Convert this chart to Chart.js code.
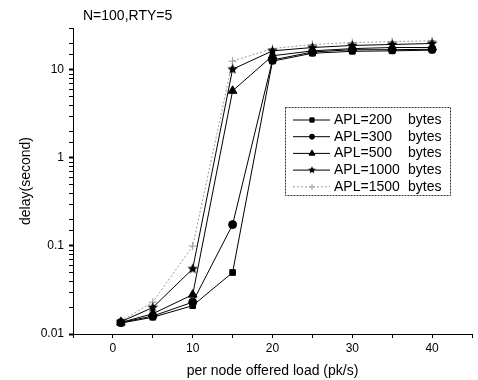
<!DOCTYPE html>
<html>
<head>
<meta charset="UTF-8">
<title>delay vs offered load</title>
<script src="https://cdn.jsdelivr.net/npm/chart.js"></script>
<style>
  html, body { margin: 0; padding: 0; background: #fff; }
  #wrap { width: 478px; height: 380px; }
</style>
</head>
<body>
<div id="wrap"><canvas id="c"></canvas></div>
<script>
  // offered load (pk/s) and delay (s) per application payload length
  const loads = [1, 5, 10, 15, 20, 25, 30, 35, 40];
  const aplNames = ['APL=200', 'APL=300', 'APL=500', 'APL=1000', 'APL=1500'];
  const apl200 = [0.0133, 0.0155, 0.021, 0.050, 12.6, 15.5, 16.3, 16.5, 16.8];
  const apl300 = [0.0135, 0.016, 0.023, 0.175, 13.0, 16.0, 17.0, 17.0, 17.2];
  const apl500 = [0.0135, 0.017, 0.028, 5.8, 14.5, 16.5, 17.5, 18.0, 18.0];
  const apl1000 = [0.0138, 0.020, 0.055, 10.2, 16.5, 18.0, 19.0, 19.5, 20.0];
  const apl1500 = [0.014, 0.023, 0.10, 12.6, 17.5, 19.5, 20.5, 21.0, 21.5];
  const xTickLabels = [0, 10, 20, 30, 40];
  const yTickLabels = [0.01, 0.1, 1, 10];

  const FONT = "'Liberation Sans', Arial, sans-serif";

  // filled five-point star for the APL=1000 markers
  function starImage(r) {
    const s = Math.ceil(r * 2 + 2);
    const cv = document.createElement('canvas');
    cv.width = s; cv.height = s;
    const g = cv.getContext('2d');
    g.fillStyle = '#000';
    g.beginPath();
    for (let i = 0; i < 10; i++) {
      const rr = i % 2 === 0 ? r : r * 0.45;
      const a = -Math.PI / 2 + i * Math.PI / 5;
      const px = s / 2 + rr * Math.cos(a), py = s / 2 + rr * Math.sin(a);
      if (i === 0) g.moveTo(px, py); else g.lineTo(px, py);
    }
    g.closePath();
    g.fill();
    return cv;
  }
  const star = starImage(5.5);
  const smallStar = starImage(4);

  const series = [apl200, apl300, apl500, apl1000, apl1500];
  const styles = [
    { pointStyle: 'rect', radius: 4, legendStyle: 'rect', legendRadius: 3, color: '#000', dash: [] },
    { pointStyle: 'circle', radius: 4, legendStyle: 'circle', legendRadius: 2.5, color: '#000', dash: [] },
    { pointStyle: 'triangle', radius: 5, legendStyle: 'triangle', legendRadius: 3.5, color: '#000', dash: [] },
    { pointStyle: star, radius: 5, legendStyle: smallStar, legendRadius: 4, color: '#000', dash: [] },
    { pointStyle: 'cross', radius: 4, legendStyle: 'cross', legendRadius: 3, color: '#999', dash: [2, 2] }
  ];

  const datasets = series.map((vals, i) => ({
    label: aplNames[i] + ' bytes',
    data: loads.map((x, j) => ({ x: x, y: vals[j] })),
    borderColor: styles[i].color,
    backgroundColor: styles[i].color,
    borderWidth: 1,
    borderDash: styles[i].dash,
    pointStyle: styles[i].pointStyle,
    pointRadius: styles[i].radius,
    pointBorderWidth: 1,
    tension: 0
  }));

  // legend drawn inside the plot, framed with a dashed box; plus the top-left caption
  const insideLegend = {
    id: 'insideLegend',
    afterDraw(chart) {
      const ctx = chart.ctx;
      const x0 = 285, y0 = 107, w = 165, h = 88;
      ctx.save();
      ctx.strokeStyle = '#333';
      ctx.lineWidth = 1;
      ctx.setLineDash([2, 1]);
      ctx.strokeRect(x0 + 0.5, y0 + 0.5, w, h);
      ctx.font = '14px ' + FONT;
      ctx.textBaseline = 'middle';
      ctx.textAlign = 'left';
      chart.data.datasets.forEach((ds, i) => {
        const y = y0 + 13 + i * 16.7;
        ctx.strokeStyle = ds.borderColor;
        ctx.fillStyle = ds.borderColor;
        ctx.setLineDash(ds.borderDash);
        ctx.beginPath();
        ctx.moveTo(293, y);
        ctx.lineTo(330, y);
        ctx.stroke();
        ctx.setLineDash([]);
        Chart.helpers.drawPoint(ctx, {
          pointStyle: styles[i].legendStyle, radius: styles[i].legendRadius,
          rotation: 0, borderWidth: 1
        }, 312, y);
        ctx.fillStyle = '#000';
        ctx.fillText(aplNames[i], 334, y);
        ctx.fillText('bytes', 408, y);
      });
      ctx.fillStyle = '#000';
      ctx.font = '14px ' + FONT;
      ctx.fillText('N=100,RTY=5', 83, 16);
      ctx.restore();
    }
  };

  new Chart(document.getElementById('c'), {
    type: 'line',
    data: { datasets: datasets },
    options: {
      responsive: true,
      maintainAspectRatio: false,
      animation: false,
      layout: { padding: { top: 28, right: 2, left: 0, bottom: 0 } },
      plugins: {
        legend: { display: false },
        tooltip: { enabled: false }
      },
      scales: {
        x: {
          type: 'linear',
          min: -5,
          max: 45,
          afterFit(s) { s.height = 46; },
          border: { display: true, color: '#000', width: 1 },
          grid: { drawOnChartArea: false, tickLength: 4, color: '#000' },
          ticks: {
            stepSize: 5,
            color: '#000',
            padding: 3,
            maxRotation: 0,
            autoSkip: false,
            font: { family: FONT, size: 12 },
            callback: v => xTickLabels.includes(v) ? String(v) : ''
          },
          title: {
            display: true,
            text: 'per node offered load (pk/s)',
            color: '#000',
            font: { family: FONT, size: 14 },
            padding: { top: 2, bottom: 0 }
          }
        },
        y: {
          type: 'logarithmic',
          min: 0.01,
          max: 30,
          afterFit(s) { s.width = 73; },
          border: { display: true, color: '#000', width: 1 },
          grid: {
            drawOnChartArea: false,
            tickLength: 4,
            color: '#000',
            tickWidth: c => (c.tick && yTickLabels.some(t => Math.abs(t - c.tick.value) < t * 1e-6)) ? 2 : 1
          },
          ticks: {
            color: '#000',
            padding: 5,
            autoSkip: false,
            font: { family: FONT, size: 12 },
            callback: v => yTickLabels.some(t => Math.abs(t - v) < t * 1e-6) ? String(v) : ''
          },
          title: {
            display: true,
            text: 'delay(second)',
            color: '#000',
            font: { family: FONT, size: 14 },
            padding: { top: 18, bottom: 0 }
          }
        }
      }
    },
    plugins: [insideLegend]
  });
</script>
</body>
</html>
